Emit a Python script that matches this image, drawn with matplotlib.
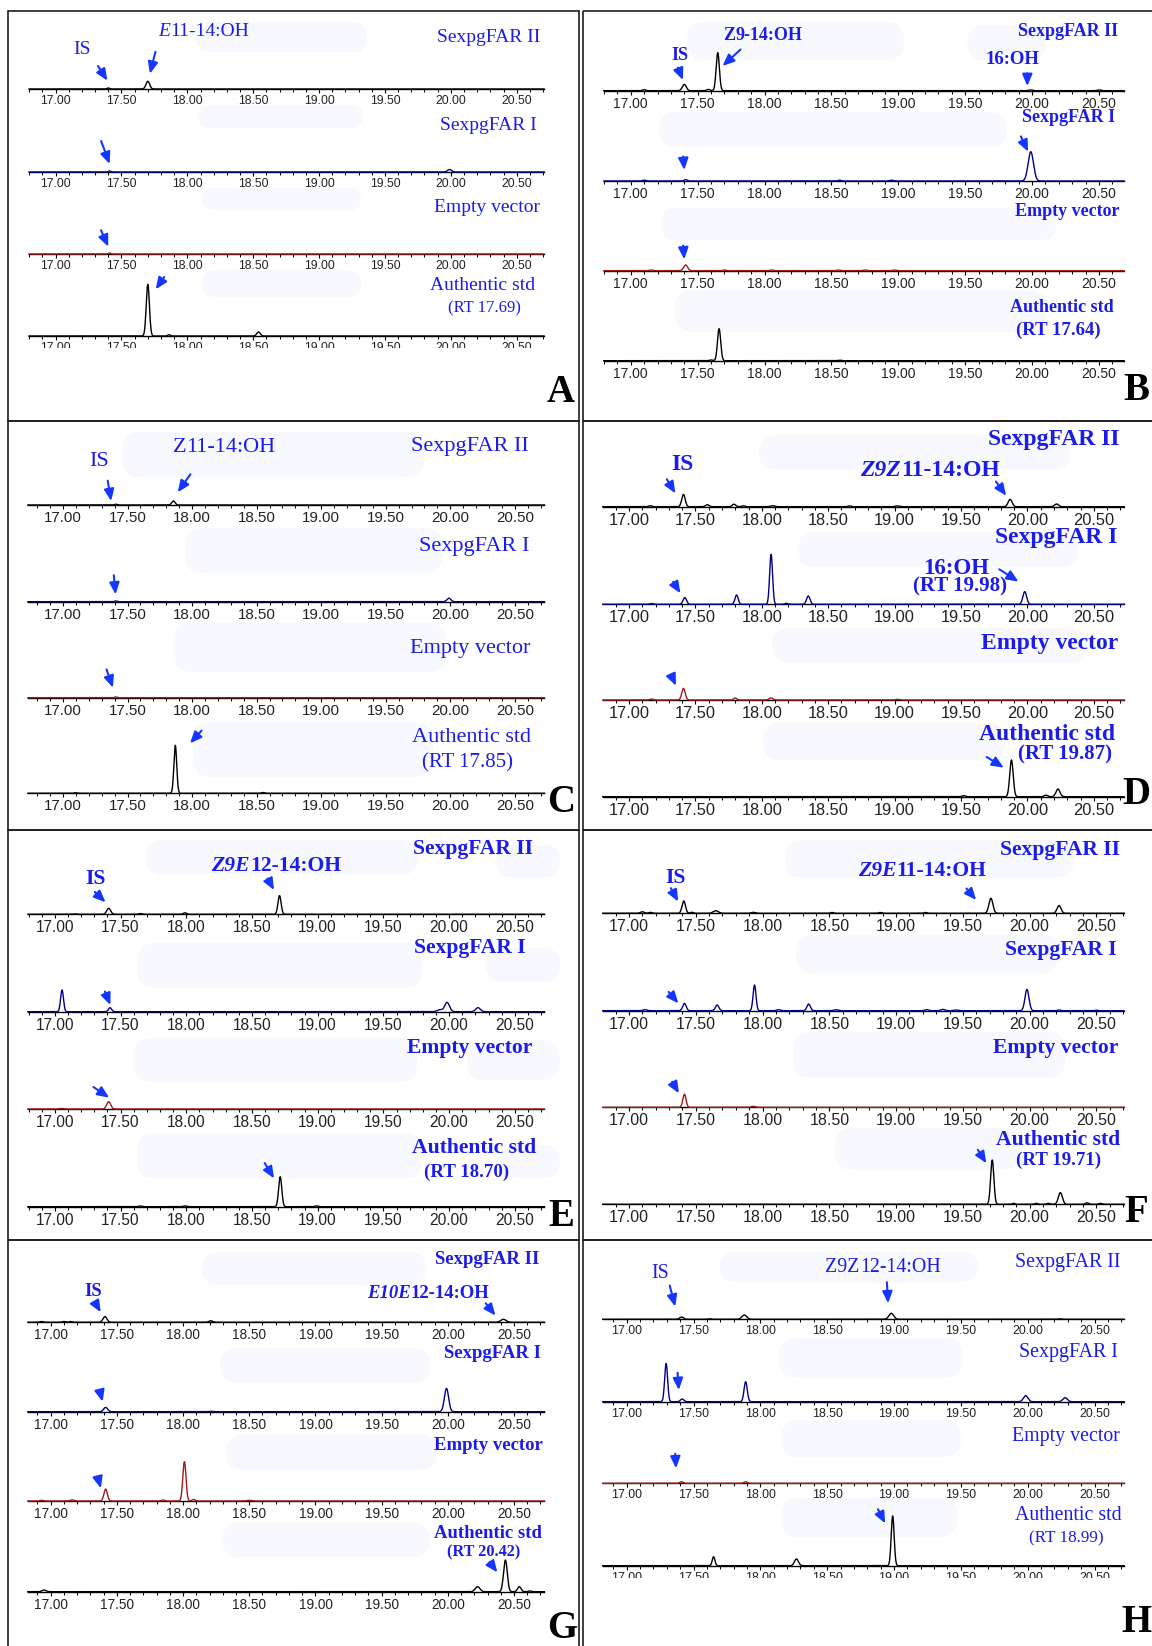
import numpy as np
import matplotlib
matplotlib.use("Agg")
import matplotlib.pyplot as plt
from matplotlib.ticker import MultipleLocator, FixedLocator, FormatStrFormatter
from matplotlib.patches import Rectangle, FancyBboxPatch
from matplotlib.offsetbox import TextArea, HPacker, AnnotationBbox
from matplotlib.transforms import Affine2D

# ======================= DATA =======================
TRACE_NAMES = ["SexpgFAR II", "SexpgFAR I", "Empty vector", "Authentic std"]
TICK_VALUES = [17.00, 17.50, 18.00, 18.50, 19.00, 19.50, 20.00, 20.50]
PANELS = ["A", "B", "C", "D", "E", "F", "G", "H"]

# compound names: (prefix part, rest)
COMPOUND_NAMES = {
    "A": ("E", "11-14:OH"), "B": ("Z", "9-14:OH"), "C": ("Z", "11-14:OH"),
    "D": ("Z9Z", "11-14:OH"), "E": ("Z9E", "12-14:OH"), "F": ("Z9E", "11-14:OH"),
    "G": ("E10E", "12-14:OH"), "H": ("Z9Z", "12-14:OH"),
}
STD_RT_LABELS = {
    "A": "(RT 17.69)", "B": "(RT 17.64)", "C": "(RT 17.85)", "D": "(RT 19.87)",
    "E": "(RT 18.70)", "F": "(RT 19.71)", "G": "(RT 20.42)", "H": "(RT 18.99)",
}

# peaks per trace: (retention time, height, width)
A_FAR_II = [(17.40, 1.0, 0.010), (17.70, 7.7, 0.014)]
A_FAR_I = [(17.41, 1.0, 0.010), (19.99, 2.5, 0.015)]
A_EMPTY = [(17.41, 1.0, 0.010)]
A_STD = [(17.70, 51.7, 0.012), (17.86, 1.3, 0.010), (18.54, 4.0, 0.013)]

B_FAR_II = [(17.10, 1.0, 0.012), (17.40, 6.3, 0.015), (17.58, 1.3, 0.012),
            (17.65, 38.0, 0.012), (19.99, 0.8, 0.015), (20.50, 0.8, 0.015)]
B_FAR_I = [(17.10, 0.8, 0.012), (17.41, 1.3, 0.012), (18.56, 0.8, 0.012),
           (18.95, 0.8, 0.012), (19.99, 29.3, 0.020)]
B_EMPTY = [(17.15, 0.7, 0.012), (17.41, 5.7, 0.015), (17.70, 0.7, 0.010),
           (18.05, 0.7, 0.012), (18.55, 0.7, 0.012), (18.75, 0.7, 0.012),
           (18.97, 0.7, 0.012)]
B_STD = [(17.60, 0.7, 0.012), (17.66, 32.0, 0.012), (18.56, 0.5, 0.012)]

C_FAR_II = [(17.41, 0.8, 0.010), (17.855, 4.0, 0.013)]
C_FAR_I = [(17.41, 0.8, 0.010), (19.99, 3.5, 0.015)]
C_EMPTY = [(17.41, 0.8, 0.010)]
C_STD = [(17.10, 0.6, 0.010), (17.87, 48.0, 0.011), (18.55, 0.8, 0.012)]

D_FAR_II = [(17.16, 1.0, 0.013), (17.41, 12.3, 0.013), (17.59, 2.0, 0.013),
            (17.79, 2.5, 0.013), (17.86, 1.0, 0.012), (18.08, 1.0, 0.015),
            (18.66, 0.8, 0.012), (19.02, 0.8, 0.015), (19.87, 7.3, 0.015),
            (20.22, 2.7, 0.015)]
D_FAR_I = [(17.17, 0.8, 0.012), (17.42, 6.7, 0.013), (17.81, 9.3, 0.012),
           (18.07, 50.0, 0.011), (18.185, 1.0, 0.012), (18.35, 8.3, 0.013),
           (19.98, 12.7, 0.014)]
D_EMPTY = [(17.17, 1.0, 0.012), (17.41, 11.7, 0.013), (17.80, 2.0, 0.012),
           (18.07, 2.0, 0.015), (19.02, 0.7, 0.012)]
D_STD = [(19.52, 1.0, 0.013), (19.88, 36.7, 0.013), (20.14, 1.5, 0.013),
         (20.23, 7.7, 0.015)]

E_FAR_II = [(17.15, 0.5, 0.012), (17.41, 6.0, 0.015), (17.65, 0.8, 0.012),
            (17.99, 1.5, 0.012), (18.71, 18.7, 0.012)]
E_FAR_I = [(17.055, 21.7, 0.011), (17.42, 4.0, 0.012), (19.93, 2.0, 0.020),
           (19.985, 9.3, 0.018), (20.22, 4.0, 0.018)]
E_EMPTY = [(17.05, 0.6, 0.015), (17.41, 7.3, 0.015)]
E_STD = [(17.65, 0.7, 0.012), (17.99, 0.8, 0.012), (18.715, 30.0, 0.012),
         (18.99, 0.8, 0.012)]

F_FAR_II = [(17.10, 1.5, 0.015), (17.16, 1.0, 0.012), (17.41, 12.3, 0.013),
            (17.47, 1.0, 0.012), (17.65, 2.5, 0.020), (17.93, 1.0, 0.015),
            (18.52, 0.8, 0.012), (18.88, 0.8, 0.012), (19.22, 0.8, 0.012),
            (19.71, 15.0, 0.015), (20.22, 7.7, 0.015)]
F_FAR_I = [(17.12, 1.0, 0.015), (17.415, 7.3, 0.013), (17.66, 5.7, 0.013),
           (17.94, 25.7, 0.011), (18.12, 1.0, 0.015), (18.345, 6.7, 0.013),
           (18.55, 1.0, 0.015), (19.23, 1.0, 0.015), (19.35, 1.3, 0.015),
           (19.45, 0.7, 0.015), (19.98, 21.3, 0.015), (20.22, 0.8, 0.010),
           (20.50, 0.5, 0.010)]
F_EMPTY = [(17.415, 13.0, 0.012), (17.93, 1.0, 0.015)]
F_STD = [(19.72, 44.3, 0.012), (19.88, 1.0, 0.010), (20.05, 1.0, 0.010),
         (20.14, 1.0, 0.012), (20.23, 11.7, 0.015), (20.43, 1.5, 0.012),
         (20.53, 1.0, 0.012)]

G_FAR_II = [(16.93, 0.8, 0.012), (17.10, 0.8, 0.012), (17.15, 0.8, 0.012),
            (17.41, 5.7, 0.015), (18.21, 1.5, 0.015), (20.42, 3.0, 0.020)]
G_FAR_I = [(17.415, 4.3, 0.015), (18.21, 0.5, 0.012), (19.99, 23.3, 0.016)]
G_EMPTY = [(16.93, 0.7, 0.012), (17.16, 1.0, 0.015), (17.415, 12.0, 0.013),
           (17.85, 1.0, 0.010), (18.01, 39.3, 0.012), (18.08, 1.5, 0.012),
           (18.50, 0.7, 0.015)]
G_STD = [(16.95, 1.7, 0.015), (20.225, 5.0, 0.018), (20.435, 31.7, 0.014),
         (20.54, 5.0, 0.013), (20.62, 0.7, 0.012)]

H_FAR_II = [(17.41, 2.3, 0.015), (17.62, 0.5, 0.012), (17.88, 4.3, 0.018),
            (18.98, 6.0, 0.018), (20.24, 0.5, 0.012)]
H_FAR_I = [(17.295, 38.3, 0.011), (17.415, 2.7, 0.013), (17.89, 20.0, 0.012),
           (19.985, 6.0, 0.017), (20.28, 4.0, 0.017)]
H_EMPTY = [(17.41, 1.5, 0.013), (17.89, 1.5, 0.013)]
H_STD = [(17.65, 9.0, 0.010), (18.27, 6.7, 0.015), (18.99, 49.7, 0.011)]

TRACES = {
    "A": [A_FAR_II, A_FAR_I, A_EMPTY, A_STD],
    "B": [B_FAR_II, B_FAR_I, B_EMPTY, B_STD],
    "C": [C_FAR_II, C_FAR_I, C_EMPTY, C_STD],
    "D": [D_FAR_II, D_FAR_I, D_EMPTY, D_STD],
    "E": [E_FAR_II, E_FAR_I, E_EMPTY, E_STD],
    "F": [F_FAR_II, F_FAR_I, F_EMPTY, F_STD],
    "G": [G_FAR_II, G_FAR_I, G_EMPTY, G_STD],
    "H": [H_FAR_II, H_FAR_I, H_EMPTY, H_STD],
}

# ======================= LAYOUT / STYLE (pixels, top-left origin) =======================
W, H = 1152, 1646
AX_H = 60.0
TRACE_COLORS = ["#000000", "#000088", "#a01818", "#000000"]
LABEL_BLUE = "#1c1ce8"
ARROW_BLUE = "#1436ff"
BLOB = "#f7f9fe"

ROWS = [10.7, 420.5, 829.5, 1240.0, 1652.0]
LEFT_BOX = (8.0, 579.0)
RIGHT_BOX = (583.0, 1160.0)

LAYOUT = {
    "A": dict(axis=(29.0, 544.0), t17=55.6, t2050=516.7, base=[89, 172, 254, 336],
              tick_pt=8.8, lab_pt=14, rt_pt=12, weight="normal", ital=True,
              IS=(82, 49), comp=(204, 32), names=[(489, 37), (488, 126), (487, 208), (483, 285)],
              rt=(484, 308), letter=(561, 393),
              arrows=[(0, 17.393, 8.3, -8.1, 12.7), (0, 17.716, 15.3, 4.8, 19), (1, 17.41, 8, -7.4, 20),
                      (2, 17.40, 7.3, -6.3, 14.3), (3, 17.76, 46.7, 7.4, 10.7)],
              blobs=[(196, 22, 367, 52), (198, 105, 363, 128), (202, 188, 361, 210), (202, 270, 361, 297)]),
    "B": dict(axis=(603.8, 1124.0), t17=630.8, t2050=1099.0, base=[90.7, 181, 270.7, 360.7],
              tick_pt=10, lab_pt=13, rt_pt=13.5, weight="bold", ital=False,
              IS=(680, 55), comp=(763, 35), names=[(1068, 31), (1069, 117), (1067, 211), (1062, 308)],
              rt=(1058, 330), letter=(1136, 390),
              arrows=[(0, 17.39, 10.7, -4.4, 10.7), (0, 17.686, 24.7, 15.6, 14.3), (0, 19.964, 4.7, 0, 11),
                      (1, 17.40, 11, -1, 11.7), (1, 19.97, 29.3, -6.3, 13.3), (2, 17.40, 11.3, -1, 12)],
              blobs=[(687, 22, 904, 60), (967, 25, 1046, 60), (659, 112, 1007, 147),
                     (661, 208, 1056, 240), (675, 290, 1046, 332)]),
    "C": dict(axis=(27.8, 544.4), t17=63.0, t2050=514.8, base=[505, 601.7, 697.7, 793.3],
              tick_pt=10.9, lab_pt=16, rt_pt=15, weight="normal", ital=False,
              IS=(99, 462), comp=(224, 447), names=[(470, 447), (474, 546), (470, 649), (471, 737)],
              rt=(467, 763), letter=(561, 803),
              arrows=[(0, 17.373, 4, -3, 17.7), (0, 17.889, 12.7, 11, 15.7), (1, 17.407, 7.3, -1.5, 16.7),
                      (2, 17.387, 10, -5.6, 16), (3, 17.984, 50, 10, 11)],
              blobs=[(122, 432, 424, 477), (185, 528, 443, 573), (174, 623, 446, 672), (193, 722, 433, 777)]),
    "D": dict(axis=(602.7, 1124.0), t17=629.0, t2050=1093.8, base=[506.7, 604.3, 700, 796.7],
              tick_pt=11.8, lab_pt=17, rt_pt=15, weight="bold", ital=True,
              IS=(682, 465), comp=(930, 471), names=[(1054, 440), (1056, 538), (1050, 643), (1047, 734)],
              rt=(1065, 754), letter=(1136, 795),
              arrows=[(0, 17.349, 13.3, -7.4, 12.3), (0, 19.84, 11, -8.9, 12.3), (1, 17.387, 11, -6.3, 10),
                      (1, 19.933, 22.7, -16.7, 10.7), (2, 17.354, 14.3, -4.4, 9.7), (3, 19.822, 29, -14.8, 9.3)],
              blobs=[(759, 435, 1070, 470), (798, 532, 1078, 567), (772, 628, 1087, 663), (763, 723, 1006, 760)]),
    "E": dict(axis=(27.8, 544.4), t17=54.8, t2050=514.8, base=[914.3, 1011.7, 1109, 1206.7],
              tick_pt=11.2, lab_pt=15.6, rt_pt=13.6, weight="bold", ital=True,
              IS=(96, 879), comp=(276, 866), names=[(473, 849), (470, 948), (470, 1048), (474, 1148)],
              rt=(467, 1172), letter=(561, 1217),
              arrows=[(0, 17.386, 12, -9.3, 9), (0, 18.668, 24.3, -5.6, 10), (1, 17.423, 6.7, -4.8, 11.7),
                      (2, 17.414, 11.3, -13.7, 9.3), (3, 18.668, 28.3, -8.1, 13.3)],
              blobs=[(146, 840, 418, 875), (496, 845, 560, 878), (137, 943, 422, 988), (486, 948, 560, 982),
                     (133, 1038, 417, 1082), (467, 1040, 560, 1080), (137, 1133, 422, 1178), (500, 1145, 560, 1178)]),
    "F": dict(axis=(602.7, 1124.0), t17=629.0, t2050=1096.4, base=[913.3, 1010.7, 1107.3, 1204.3],
              tick_pt=11.5, lab_pt=15.6, rt_pt=13.6, weight="bold", ital=True,
              IS=(675, 878), comp=(922, 871), names=[(1060, 850), (1061, 950), (1056, 1048), (1058, 1140)],
              rt=(1059, 1160), letter=(1136, 1213),
              arrows=[(0, 17.368, 11.7, -6.3, 11.7), (0, 19.60, 13.3, -8.5, 10), (1, 17.37, 7.3, -8.5, 10),
                      (2, 17.374, 14, -5.9, 10), (3, 19.676, 41, -7.4, 11.7)],
              blobs=[(785, 840, 1074, 878), (796, 935, 1059, 973), (793, 1032, 1065, 1078), (835, 1128, 1020, 1170)]),
    "G": dict(axis=(27.8, 544.4), t17=50.7, t2050=514.0, base=[1322.3, 1411.7, 1501, 1591.7],
              tick_pt=9.8, lab_pt=13.5, rt_pt=11.7, weight="bold", ital=True,
              IS=(93, 1292), comp=(428, 1293), names=[(487, 1259), (492, 1353), (488, 1445), (488, 1533)],
              rt=(484, 1552), letter=(562, 1628),
              arrows=[(0, 17.378, 10, -5.2, 9), (0, 20.36, 6.7, -8.5, 10.7), (1, 17.392, 10, -2.6, 10),
                      (2, 17.378, 12.7, -2.6, 10), (3, 20.374, 19.3, -6.7, 9)],
              blobs=[(202, 1252, 426, 1285), (220, 1348, 430, 1383), (226, 1435, 437, 1470), (222, 1523, 430, 1557)]),
    "H": dict(axis=(602.7, 1124.0), t17=626.7, t2050=1094.5, base=[1319.3, 1401.7, 1483.3, 1565.7],
              tick_pt=8.9, lab_pt=14.3, rt_pt=12.3, weight="normal", ital=False,
              IS=(660, 1273), comp=(883, 1267), names=[(1068, 1262), (1068, 1352), (1066, 1437), (1068, 1515)],
              rt=(1066, 1538), letter=(1136, 1623),
              arrows=[(0, 17.363, 12.7, -4.8, 18.3), (0, 18.956, 16, -1.1, 18.3), (1, 17.39, 11.7, -1.1, 15),
                      (2, 17.369, 15, -0.7, 12.7), (3, 18.934, 42.3, -6.3, 12.3)],
              blobs=[(720, 1252, 978, 1282), (779, 1338, 963, 1378), (781, 1420, 961, 1457), (781, 1498, 957, 1537)]),
}
EXTRA_LABELS = {
    "B": [("16:OH", (1012, 60), 13.5)],
    "D": [("16:OH", (956, 568), 16.5), ("(RT 19.98)", (960, 586), 15)],
}
CUT_BANDS = {"A": (20, 348, 552, 364), "H": (595, 1578, 1130, 1594)}

plt.rcParams["font.family"] = ["Liberation Sans", "DejaVu Sans"]
fig = plt.figure(figsize=(W / 100, H / 100), dpi=100, facecolor="white")
PX = Affine2D().scale(0.01, -0.01).translate(0, H / 100) + fig.dpi_scale_trans


def rich_label(x, y, parts, size, weight, color=LABEL_BLUE):
    boxes = [TextArea(s, textprops=dict(family="Liberation Serif", style=st, weight=weight,
                                        size=size, color=color)) for s, st in parts]
    pack = HPacker(children=boxes, align="baseline", pad=0, sep=0)
    ab = AnnotationBbox(pack, (x, y), xycoords=PX, frameon=False, box_alignment=(0.5, 0.5),
                        pad=0, zorder=4)
    fig.add_artist(ab)


# panel borders
for r in range(4):
    for (x0, x1) in (LEFT_BOX, RIGHT_BOX):
        fig.add_artist(Rectangle((x0, ROWS[r]), x1 - x0, ROWS[r + 1] - ROWS[r], transform=PX,
                                 fill=False, edgecolor="#1e1e1e", lw=1.2, zorder=3))

for p in PANELS:
    L = LAYOUT[p]
    a0, a1 = L["axis"]
    ppr = (L["t2050"] - L["t17"]) / 3.5
    xlim = (17.0 - (L["t17"] - a0) / ppr, 17.0 + (a1 - L["t17"]) / ppr)

    for (x0, y0, x1, y1) in L["blobs"]:
        rs = min((y1 - y0) / 2, 18)
        fig.add_artist(FancyBboxPatch((x0, y0), x1 - x0, y1 - y0, transform=PX,
                                      boxstyle=f"round,pad=0,rounding_size={rs}",
                                      facecolor=BLOB, edgecolor="none", zorder=-1))

    axes = []
    for i, peaks in enumerate(TRACES[p]):
        base = L["base"][i]
        ax = fig.add_axes([a0 / W, 1 - base / H, (a1 - a0) / W, AX_H / H])
        ax.set_facecolor("none")
        ax.set_xlim(*xlim)
        ax.set_ylim(0, AX_H)
        for s in ("top", "left", "right"):
            ax.spines[s].set_visible(False)
        ax.spines["bottom"].set_linewidth(1.0)
        ax.set_yticks([])
        ax.xaxis.set_major_locator(FixedLocator(TICK_VALUES))
        ax.xaxis.set_major_formatter(FormatStrFormatter("%.2f"))
        ax.xaxis.set_minor_locator(MultipleLocator(0.1))
        ax.tick_params(axis="x", which="major", direction="out", length=3.0, width=0.8,
                       pad=1.2, labelsize=L["tick_pt"], labelcolor="#222222")
        ax.tick_params(axis="x", which="minor", direction="out", length=1.8, width=0.7)
        x = np.linspace(xlim[0], xlim[1], 4000)
        y = np.zeros_like(x)
        for rt, h, w in peaks:
            y += h * np.exp(-0.5 * ((x - rt) / w) ** 2)
        ax.plot(x, y, color=TRACE_COLORS[i], lw=1.0, clip_on=False, zorder=3)
        axes.append(ax)

    for (ti, rt, h, dx, dy) in L["arrows"]:
        axes[ti].annotate("", xy=(rt, h), xycoords="data", xytext=(dx * 1.15, dy * 1.15),
                          textcoords="offset pixels", annotation_clip=False,
                          arrowprops=dict(arrowstyle="-|>,head_length=0.7,head_width=0.3",
                                          color=ARROW_BLUE, lw=1.5, shrinkA=0, shrinkB=0,
                                          mutation_scale=10))

    wt, sz = L["weight"], L["lab_pt"]
    rich_label(*L["IS"], [("IS", "normal")], sz, wt)
    pre, rest = COMPOUND_NAMES[p]
    rich_label(*L["comp"], [(pre, "italic" if L["ital"] else "normal"), (rest, "normal")], sz, wt)
    for name, pos in zip(TRACE_NAMES, L["names"]):
        rich_label(*pos, [(name, "normal")], sz, wt)
    rich_label(*L["rt"], [(STD_RT_LABELS[p], "normal")], L["rt_pt"], wt)
    for (txt, pos, s2) in EXTRA_LABELS.get(p, []):
        rich_label(*pos, [(txt, "normal")], s2, wt)
    rich_label(*L["letter"], [(p, "normal")], 28, "bold", color="black")

    if p in CUT_BANDS:
        x0, y0, x1, y1 = CUT_BANDS[p]
        fig.add_artist(Rectangle((x0, y0), x1 - x0, y1 - y0, transform=PX,
                                 facecolor="white", edgecolor="none", zorder=2))

fig.savefig("out.png", dpi=100, facecolor="white")
